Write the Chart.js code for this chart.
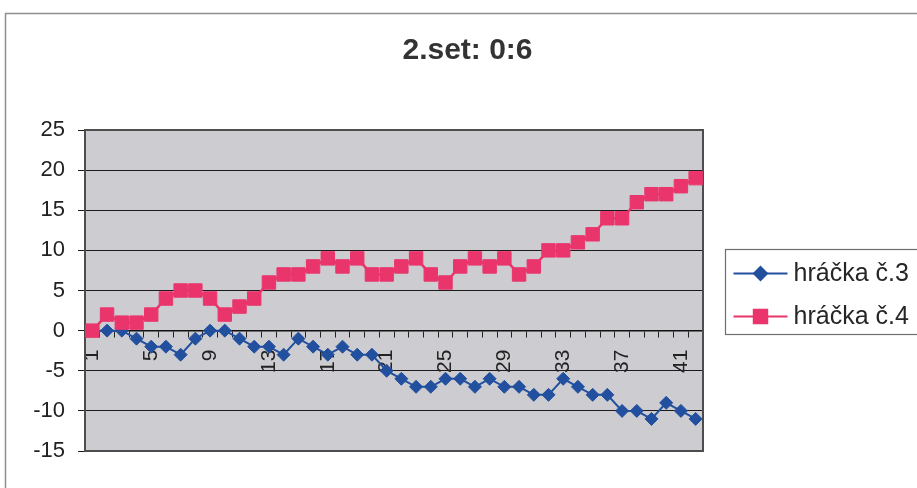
<!DOCTYPE html>
<html>
<head>
<meta charset="utf-8">
<script src="https://cdn.jsdelivr.net/npm/chart.js@4/dist/chart.umd.min.js"></script>
<style>
  html, body { margin: 0; padding: 0; background: #fff; overflow: hidden; }
  #wrap { width: 917px; height: 488px; }
</style>
</head>
<body>
<div id="wrap"><canvas id="c" width="917" height="488"></canvas></div>
<script>
// Rally numbers of the set
const categories = ['1','2','3','4','5','6','7','8','9','10','11','12','13','14','15','16','17','18','19','20','21',
                    '22','23','24','25','26','27','28','29','30','31','32','33','34','35','36','37','38','39','40','41','42'];
// Only every fourth rally is labelled on the axis
const shownTicks = ['1','5','9','13','17','21','25','29','33','37','41'];

const seriesNames = ['hráčka č.3', 'hráčka č.4'];
const player3 = [0,0,0,-1,-2,-2,-3,-1,0,0,-1,-2,-2,-3,-1,-2,-3,-2,-3,-3,-5,-6,-7,-7,-6,-6,-7,-6,-7,-7,-8,-8,-6,-7,-8,-8,-10,-10,-11,-9,-10,-11];
const player4 = [0,2,1,1,2,4,5,5,4,2,3,4,6,7,7,8,9,8,9,7,7,8,9,7,6,8,9,8,9,7,8,10,10,11,12,14,14,16,17,17,18,19];

const yTicks = { min: -15, max: 25, step: 5 };

const FONT = "'Liberation Sans', Arial, sans-serif";
const BLUE = '#22509f';
const RED = '#ea356c';

// Keeps a fixed strip on the right for the legend, drawn by chartDecor
const reserveLegendStrip = {
  id: 'reserveLegendStrip',
  beforeInit(chart) {
    const fit = chart.legend.fit;
    chart.legend.fit = function () {
      fit.call(this);
      this.width = 214;
    };
  }
};

// Plot area fill, frames and the boxed legend
const chartDecor = {
  id: 'chartDecor',
  beforeDraw(chart) {
    const { ctx, chartArea: a } = chart;
    ctx.save();
    ctx.strokeStyle = '#8e8e8e';
    ctx.lineWidth = 1.5;
    ctx.strokeRect(5.5, 13.5, chart.width + 40, chart.height + 40);
    ctx.fillStyle = '#cdcdd1';
    ctx.fillRect(a.left, a.top, a.right - a.left, a.bottom - a.top);
    ctx.restore();
  },
  beforeDatasetsDraw(chart) {
    const { ctx, chartArea: a } = chart;
    ctx.save();
    ctx.strokeStyle = '#4d4d4d';
    ctx.lineWidth = 2;
    ctx.strokeRect(a.left, a.top, a.right - a.left, a.bottom - a.top);
    ctx.restore();
  },
  afterDraw(chart) {
    const { ctx, chartArea: a } = chart;
    const cy = (a.top + a.bottom) / 2;
    const boxLeft = a.right + 22.5;
    const boxTop = Math.round(cy - 42) + 0.5;
    ctx.save();
    ctx.strokeStyle = '#6e6e6e';
    ctx.lineWidth = 1.2;
    ctx.strokeRect(boxLeft, boxTop, 260, 85);
    const rows = [boxTop + 24, boxTop + 67];
    chart.data.datasets.forEach((ds, i) => {
      const y = rows[i];
      const x0 = boxLeft + 8, x1 = boxLeft + 62;
      ctx.strokeStyle = ds.borderColor;
      ctx.lineWidth = 2;
      ctx.beginPath();
      ctx.moveTo(x0, y);
      ctx.lineTo(x1, y);
      ctx.stroke();
      ctx.fillStyle = ds.pointBackgroundColor;
      ctx.strokeStyle = ds.pointBorderColor;
      Chart.helpers.drawPoint(ctx, {
        pointStyle: ds.pointStyle, radius: ds.pointRadius, rotation: 0, borderWidth: 1
      }, (x0 + x1) / 2, y);
      ctx.fillStyle = '#262626';
      ctx.font = '25px ' + FONT;
      ctx.textAlign = 'left';
      ctx.textBaseline = 'middle';
      ctx.fillText(ds.label, x1 + 6, y + 1);
    });
    ctx.restore();
  }
};

new Chart(document.getElementById('c'), {
  type: 'line',
  data: {
    labels: categories,
    datasets: [
      {
        label: seriesNames[0],
        data: player3,
        borderColor: BLUE,
        backgroundColor: BLUE,
        pointBackgroundColor: BLUE,
        pointBorderColor: BLUE,
        borderWidth: 2,
        pointStyle: 'rectRot',
        pointRadius: 6.5,
        pointBorderWidth: 1,
        tension: 0,
        order: 1
      },
      {
        label: seriesNames[1],
        data: player4,
        borderColor: RED,
        backgroundColor: RED,
        pointBackgroundColor: RED,
        pointBorderColor: RED,
        borderWidth: 2.5,
        pointStyle: 'rect',
        pointRadius: 9.5,
        pointBorderWidth: 1,
        tension: 0,
        order: 0
      }
    ]
  },
  options: {
    responsive: false,
    animation: false,
    events: [],
    layout: { padding: { left: 18, top: 14, right: 0, bottom: 37 } },
    plugins: {
      title: {
        display: true,
        text: '2.set: 0:6',
        color: '#333',
        font: { family: FONT, size: 30, weight: 'bold' },
        padding: { top: 19, bottom: 61 }
      },
      legend: {
        display: true,
        position: 'right',
        labels: { generateLabels: () => [] }
      },
      tooltip: { enabled: false }
    },
    scales: {
      x: {
        type: 'category',
        position: { y: 0 },
        offset: true,
        grid: {
          offset: true,
          drawOnChartArea: false,
          drawTicks: true,
          tickLength: 6,
          color: '#222'
        },
        border: { display: true, color: '#111', width: 1.5 },
        ticks: {
          autoSkip: false,
          minRotation: 90,
          maxRotation: 90,
          padding: 13,
          color: '#222',
          font: { family: FONT, size: 21 },
          callback: function (value, index) {
            const lab = this.getLabelForValue(value);
            return shownTicks.includes(lab) ? lab : '';
          }
        }
      },
      y: {
        min: yTicks.min,
        max: yTicks.max,
        afterFit(scale) { scale.width = 67; },
        grid: { color: '#1a1a1a', lineWidth: 1, tickLength: 7 },
        border: { display: false },
        ticks: {
          stepSize: yTicks.step,
          padding: 13,
          color: '#222',
          font: { family: FONT, size: 22 }
        }
      }
    }
  },
  plugins: [reserveLegendStrip, chartDecor]
});
</script>
</body>
</html>
